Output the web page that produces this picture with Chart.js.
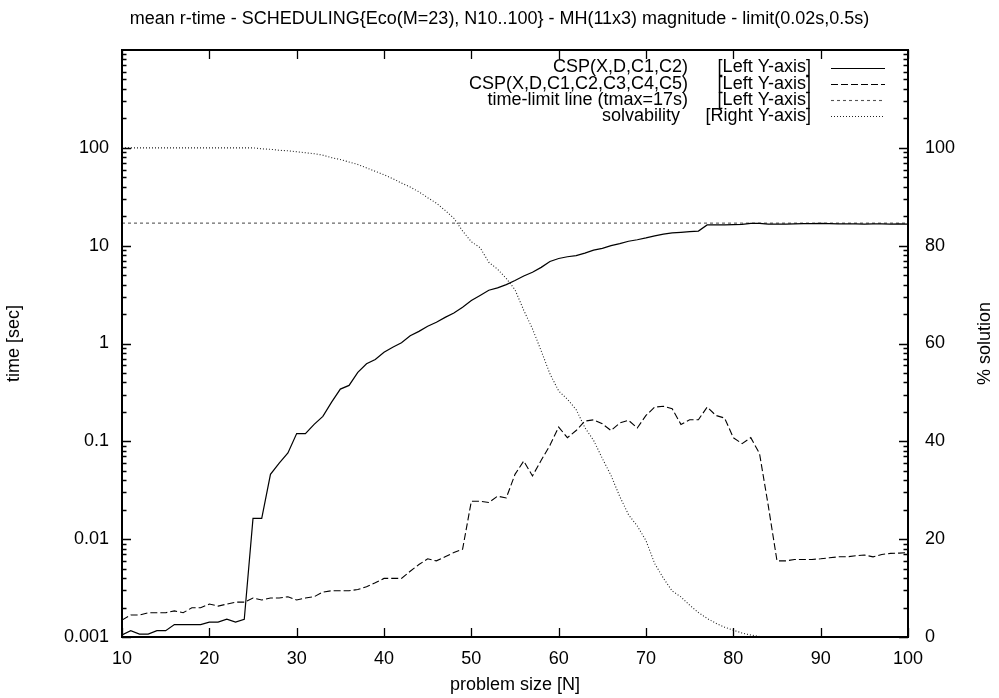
<!DOCTYPE html>
<html>
<head>
<meta charset="utf-8">
<script src="https://cdn.jsdelivr.net/npm/chart.js@4.4.1/dist/chart.umd.min.js"></script>
<style>
  html, body { margin: 0; padding: 0; background: #fff; }
  canvas { display: block; }
</style>
</head>
<body>
<canvas id="c" width="999" height="698"></canvas>
<script>
// ---------------- data ----------------
const problemSize = [10,11,12,13,14,15,16,17,18,19,20,21,22,23,24,25,26,27,28,29,30,31,32,33,34,35,36,37,38,39,40,41,42,43,44,45,46,47,48,49,50,51,52,53,54,55,56,57,58,59,60,61,62,63,64,65,66,67,68,69,70,71,72,73,74,75,76,77,78,79,80,81,82,83,84,85,86,87,88,89,90,91,92,93,94,95,96,97,98,99,100];

// CSP(X,D,C1,C2) mean time [sec]
const timeC1C2 = [0.00105,0.00116,0.00107,0.00107,0.00116,0.00116,0.00134,0.00134,0.00134,0.00134,
  0.00142,0.00142,0.00152,0.00142,0.00152,0.0163,0.0163,0.046,0.060,0.076,
  0.120,0.120,0.149,0.180,0.252,0.342,0.373,0.506,0.62,0.687,
  0.815,0.917,1.02,1.2,1.33,1.5,1.65,1.85,2.05,2.35,
  2.75,3.1,3.5,3.7,4.0,4.4,4.9,5.35,6.0,6.9,
  7.4,7.7,7.9,8.4,9.0,9.4,10.0,10.5,11.1,11.5,
  12.0,12.6,13.1,13.5,13.7,13.9,14.1,16.3,16.3,16.3,
  16.4,16.5,16.9,16.9,16.6,16.6,16.6,16.7,16.8,16.8,
  16.9,16.8,16.7,16.7,16.7,16.6,16.7,16.7,16.6,16.7,16.6];

// CSP(X,D,C1,C2,C3,C4,C5) mean time [sec]
const timeC1C5 = [0.00149,0.00168,0.00168,0.00177,0.00177,0.00177,0.00185,0.00177,0.00199,0.00199,
  0.00217,0.00207,0.00217,0.00227,0.00227,0.0025,0.00239,0.0025,0.0025,0.00258,
  0.00239,0.0025,0.00258,0.00288,0.00297,0.00297,0.00297,0.00306,0.00326,0.00358,
  0.00397,0.00397,0.00397,0.0047,0.0055,0.0063,0.0060,0.0066,0.0073,0.0079,
  0.0244,0.0244,0.0237,0.0275,0.0264,0.046,0.063,0.0443,0.064,0.091,
  0.14,0.109,0.129,0.161,0.166,0.151,0.129,0.154,0.164,0.137,
  0.184,0.224,0.228,0.215,0.149,0.166,0.166,0.224,0.184,0.173,
  0.109,0.0947,0.109,0.0749,0.022,0.0060,0.0060,0.0062,0.0062,0.0062,
  0.0063,0.00645,0.0066,0.0066,0.00676,0.0069,0.0066,0.00698,0.00715,0.0072,0.0073];

// time-limit line (tmax = 17 s)
const limitX = [10, 100];
const limitY = [17, 17];

// solvability [% solution]
const solvability = [100,100,100,100,100,100,100,100,100,100,
  100,100,100,100,100,100,99.8,99.7,99.5,99.4,
  99.2,99.0,98.8,98.5,98.0,97.6,97.1,96.6,95.9,95.2,
  94.5,93.7,92.8,92.0,91.0,89.8,88.7,87.2,85.6,83.0,
  80.8,79.6,76.6,75.2,73.3,71.0,66.8,63.0,58.5,53.8,
  50.3,48.6,46.5,42.8,40.2,36.5,33.0,28.7,25.0,22.7,
  19.7,15.0,12.0,9.4,8.2,6.5,5.0,3.8,2.8,2.0,
  1.4,0.8,0.4,0.1,0,0,0,0,0,0,
  0,0,0,0,0,0,0,0,0,0,0];

const xTickLabels = ['10','20','30','40','50','60','70','80','90','100'];
const leftTickLabels = ['0.001','0.01','0.1','1','10','100'];
const rightTickLabels = ['0','20','40','60','80','100'];

const legendRows = [
  ['CSP(X,D,C1,C2)', '[Left Y-axis]'],
  ['CSP(X,D,C1,C2,C3,C4,C5)', '[Left Y-axis]'],
  ['time-limit line (tmax=17s)', '[Left Y-axis]'],
  ['solvability', '[Right Y-axis]']
];

// ---------------- chart ----------------
const FONT = "'Liberation Sans', Arial, Helvetica, sans-serif";
Chart.defaults.font.family = FONT;
Chart.defaults.font.size = 18;
Chart.defaults.color = '#000';

const pts = (xs, ys) => xs.map((x, i) => ({ x: x, y: ys[i] }));

const styles = [
  { color: '#000', width: 1.2, dash: [] },
  { color: '#000', width: 1.1, dash: [7, 3] },
  { color: '#555', width: 1.1, dash: [3, 3] },
  { color: '#222', width: 1.1, dash: [1, 2] }
];

const framePlugin = {
  id: 'frame',
  afterDraw(chart) {
    const ctx = chart.ctx;
    const a = chart.chartArea;
    const xs = chart.scales.x, ys = chart.scales.y, y2 = chart.scales.y2;
    ctx.save();
    ctx.strokeStyle = '#000';
    // ticks
    ctx.lineWidth = 1.3;
    ctx.beginPath();
    xTickLabels.forEach(t => {
      const px = Math.round(xs.getPixelForValue(Number(t))) + 0.5;
      ctx.moveTo(px, a.bottom); ctx.lineTo(px, a.bottom - 9);
      ctx.moveTo(px, a.top); ctx.lineTo(px, a.top + 9);
    });
    for (let k = -3; k <= 2; k++) {
      for (let m = 1; m <= 9; m++) {
        const v = m * Math.pow(10, k);
        const py = Math.round(ys.getPixelForValue(v)) + 0.5;
        const len = m === 1 ? 9 : 4.5;
        ctx.moveTo(a.left, py); ctx.lineTo(a.left + len, py);
        ctx.moveTo(a.right, py); ctx.lineTo(a.right - len, py);
      }
    }
    rightTickLabels.forEach(t => {
      const py = Math.round(y2.getPixelForValue(Number(t))) + 0.5;
      ctx.moveTo(a.right, py); ctx.lineTo(a.right - 9, py);
    });
    ctx.stroke();
    // border
    ctx.lineWidth = 2;
    ctx.strokeRect(a.left, a.top, a.right - a.left, a.bottom - a.top);

    // right axis title (reads bottom to top)
    ctx.fillStyle = '#000';
    ctx.font = '18px ' + FONT;
    ctx.textAlign = 'center';
    ctx.textBaseline = 'middle';
    ctx.translate(985, (a.top + a.bottom) / 2);
    ctx.rotate(-Math.PI / 2);
    ctx.fillText('% solution', 0, 0);
    ctx.restore();

    // legend
    ctx.save();
    ctx.font = '18px ' + FONT;
    ctx.fillStyle = '#000';
    ctx.textBaseline = 'middle';
    ctx.textAlign = 'right';
    legendRows.forEach((r, i) => {
      const y = 67.5 + i * 16.3;
      ctx.fillText(r[0], i === 3 ? 680 : 688, y);
      ctx.fillText(r[1], 811, y);
      const s = styles[i];
      ctx.beginPath();
      ctx.strokeStyle = s.color;
      ctx.lineWidth = s.width;
      ctx.setLineDash(s.dash);
      ctx.moveTo(831, Math.round(y) + 0.5);
      ctx.lineTo(885, Math.round(y) + 0.5);
      ctx.stroke();
    });
    ctx.restore();
  }
};

const ds = (label, data, s, axis) => ({
  label, data, yAxisID: axis,
  borderColor: s.color, borderWidth: s.width, borderDash: s.dash,
  pointRadius: 0, tension: 0, fill: false
});

new Chart(document.getElementById('c'), {
  type: 'line',
  data: {
    datasets: [
      ds('CSP(X,D,C1,C2)', pts(problemSize, timeC1C2), styles[0], 'y'),
      ds('CSP(X,D,C1,C2,C3,C4,C5)', pts(problemSize, timeC1C5), styles[1], 'y'),
      ds('time-limit line (tmax=17s)', pts(limitX, limitY), styles[2], 'y'),
      ds('solvability', pts(problemSize, solvability), styles[3], 'y2')
    ]
  },
  options: {
    responsive: false,
    animation: false,
    devicePixelRatio: 1,
    layout: { padding: 0 },
    plugins: {
      legend: { display: false },
      tooltip: { enabled: false },
      title: {
        display: true,
        text: 'mean r-time - SCHEDULING{Eco(M=23), N10..100} - MH(11x3) magnitude - limit(0.02s,0.5s)',
        font: { size: 18, weight: 'normal', family: FONT },
        color: '#000',
        padding: { top: 8, bottom: 20.4 }
      }
    },
    scales: {
      x: {
        type: 'linear', min: 10, max: 100,
        grid: { display: false }, border: { display: false },
        ticks: { stepSize: 10, padding: 3, maxRotation: 0, autoSkip: false,
          callback: (v) => { const i = xTickLabels.indexOf(String(v)); return i >= 0 ? xTickLabels[i] : ''; } },
        title: { display: true, text: 'problem size [N]', font: { size: 18 }, padding: { top: 0, bottom: 2 } },
        afterFit: (s) => { s.height = 61; }
      },
      y: {
        type: 'logarithmic', position: 'left', min: 0.001, max: 1000,
        grid: { display: false }, border: { display: false },
        ticks: { padding: 5, autoSkip: false,
          callback: (v) => {
            const l = Math.log10(v), r = Math.round(l);
            return (Math.abs(l - r) < 1e-6 && r <= 2) ? leftTickLabels[r + 3] : '';
          } },
        title: { display: true, text: 'time [sec]', font: { size: 18 }, padding: { top: 3, bottom: 0 } },
        afterFit: (s) => { s.width = 122; }
      },
      y2: {
        type: 'linear', position: 'right', min: 0, max: 120,
        grid: { display: false }, border: { display: false },
        ticks: { stepSize: 20, padding: 9, autoSkip: false,
          callback: (v) => { const i = rightTickLabels.indexOf(String(v)); return i >= 0 ? rightTickLabels[i] : ''; } },
        afterFit: (s) => { s.width = 91; }
      }
    }
  },
  plugins: [framePlugin]
});
</script>
</body>
</html>
